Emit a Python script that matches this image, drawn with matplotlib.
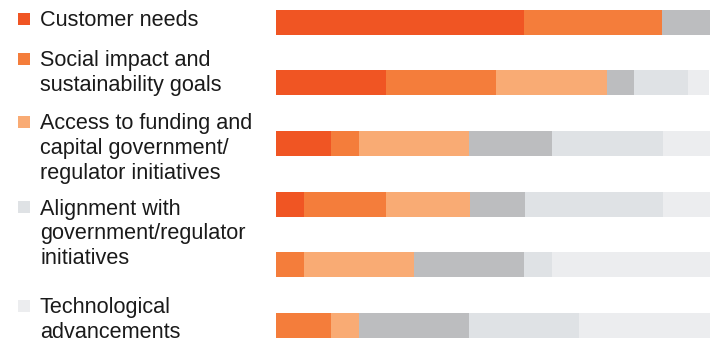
import matplotlib
matplotlib.use("Agg")
import matplotlib.pyplot as plt
from matplotlib.patches import Rectangle
import numpy as np

plt.rcParams['font.family'] = ['Liberation Sans', 'DejaVu Sans']

# Legend labels (5 shown) and legend square colours
legend_labels = [
    "Customer needs",
    "Social impact and\nsustainability goals",
    "Access to funding and\ncapital government/\nregulator initiatives",
    "Alignment with\ngovernment/regulator\ninitiatives",
    "Technological\nadvancements",
]
legend_colors = ["#F05523", "#F47D3B", "#F9AB74", "#DFE2E5", "#ECEDEF"]

# Six stacked segment colours
segment_colors = ["#F05523", "#F47D3B", "#F9AB74", "#BCBDBF", "#DFE2E5", "#ECEDEF"]

# Segment values (percent), one list per colour, across the 6 bars (top to bottom)
dark_orange = [57.1, 25.3, 12.7, 6.5, 0.0, 0.0]
mid_orange = [31.9, 25.3, 6.5, 18.9, 6.5, 12.7]
light_orange = [0.0, 25.6, 25.3, 19.2, 25.4, 6.5]
mid_gray = [11.0, 6.2, 19.0, 12.7, 25.3, 25.3]
light_gray = [0.0, 12.6, 25.6, 31.9, 6.3, 25.3]
lightest_gray = [0.0, 4.8, 10.9, 10.9, 36.5, 30.1]
segments = [dark_orange, mid_orange, light_orange, mid_gray, light_gray, lightest_gray]

W, H = 710, 343
fig = plt.figure(figsize=(W / 100, H / 100), dpi=100)

# Bars axes
x0 = 276
ax = fig.add_axes([x0 / W, 0, (W - x0) / W, 1])
n = len(dark_orange)
y = np.arange(n)
left = np.zeros(n)
for vals, c in zip(segments, segment_colors):
    vals = np.array(vals)
    ax.barh(y, vals, left=left, height=0.41, color=c, edgecolor='none')
    left += vals
ax.set_xlim(0, 100)
spacing = 60.6
first_center = 22.3
ax.set_ylim((H - first_center) / spacing, -first_center / spacing)
ax.axis('off')

# Legend axes (pixel coordinates)
lax = fig.add_axes([0, 0, 1, 1])
lax.set_xlim(0, W)
lax.set_ylim(H, 0)
lax.axis('off')
baselines = [26.5, 66, 129, 214.5, 313.5]
line_h = 25
for lab, col, b in zip(legend_labels, legend_colors, baselines):
    lax.add_patch(Rectangle((18, b - 13.5), 12, 12, color=col, lw=0))
    for i, line in enumerate(lab.split("\n")):
        lax.text(40, b + i * line_h, line, fontsize=15.6, color='#1a1a1a',
                 va='baseline', ha='left')

fig.savefig("out.png", dpi=100)
